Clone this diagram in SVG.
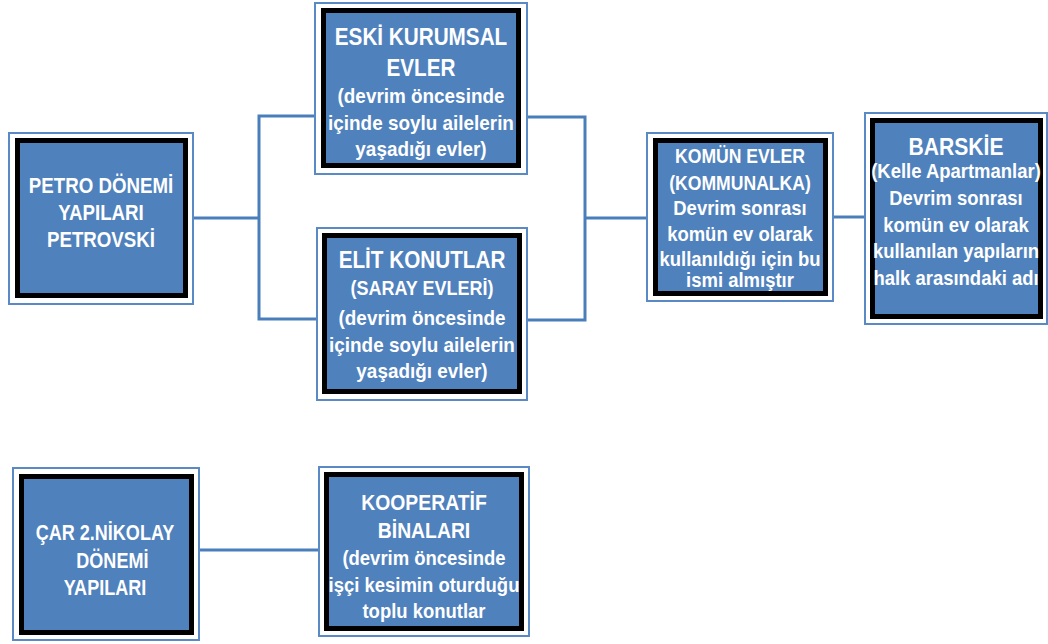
<svg xmlns="http://www.w3.org/2000/svg" width="1048" height="644" viewBox="0 0 1048 644">
<style>
.outer{fill:#ffffff;stroke:#5a8ac6;stroke-width:2}
.black{fill:#000000}
.fill{fill:#4f81bd}
.t{font-family:"Liberation Sans",Arial,sans-serif;font-weight:bold;fill:#ffffff;text-anchor:middle}
.conn{fill:none;stroke:#4a7ebb;stroke-width:3}
</style>
<rect width="1048" height="644" fill="#ffffff"/>
<g id="connectors" class="conn">
<path d="M193,218 H259"/>
<path d="M315,116 H259 V319 H317"/>
<path d="M527,117 H585 V320 H527"/>
<path d="M585,218 H647"/>
<path d="M833,217 H865"/>
<path d="M199,550 H319"/>
</g>
<g id="petro">
<rect class="outer" x="9" y="133" width="184" height="171"/>
<rect class="black" x="15" y="138" width="173" height="160"/>
<rect class="fill" x="20" y="143" width="163" height="150"/>
<g class="t" font-size="22" transform="translate(101,0) scale(0.85,1)">
<text x="0" y="193">PETRO DÖNEMİ</text>
<text x="0" y="220">YAPILARI</text>
<text x="0" y="247">PETROVSKİ</text>
</g>
</g>
<g id="eski">
<rect class="outer" x="315" y="3" width="212" height="171"/>
<rect class="black" x="321" y="8" width="200" height="160"/>
<rect class="fill" x="326" y="13" width="190" height="150"/>
<g class="t" font-size="21" transform="translate(421,0) scale(0.9,1)">
<text x="0" y="45" font-size="23">ESKİ KURUMSAL</text>
<text x="0" y="76" font-size="23">EVLER</text>
<text x="0" y="103">(devrim öncesinde</text>
<text x="0" y="130">içinde soylu ailelerin</text>
<text x="0" y="156">yaşadığı evler)</text>
</g>
</g>
<g id="elit">
<rect class="outer" x="317" y="228" width="210" height="172"/>
<rect class="black" x="322" y="233" width="200" height="161"/>
<rect class="fill" x="327" y="238" width="190" height="151"/>
<g class="t" font-size="21" transform="translate(422,0) scale(0.9,1)">
<text x="0" y="268" font-size="23">ELİT KONUTLAR</text>
<text x="0" y="295" font-size="20">(SARAY EVLERİ)</text>
<text x="0" y="325">(devrim öncesinde</text>
<text x="0" y="352">içinde soylu ailelerin</text>
<text x="0" y="378">yaşadığı evler)</text>
</g>
</g>
<g id="komun">
<rect class="outer" x="647" y="133" width="186" height="168"/>
<rect class="black" x="653" y="138" width="175" height="158"/>
<rect class="fill" x="658" y="143" width="165" height="148"/>
<g class="t" font-size="21" transform="translate(740,0) scale(0.88,1)">
<text x="0" y="163" font-size="20">KOMÜN EVLER</text>
<text x="0" y="190" font-size="20">(KOMMUNALKA)</text>
<text x="0" y="215">Devrim sonrası</text>
<text x="0" y="241">komün ev olarak</text>
<text x="0" y="266">kullanıldığı için bu</text>
<text x="0" y="287">ismi almıştır</text>
</g>
</g>
<g id="barskie">
<rect class="outer" x="865" y="113" width="182" height="211"/>
<rect class="black" x="870" y="118" width="173" height="201"/>
<rect class="fill" x="875" y="123" width="163" height="191"/>
<g class="t" font-size="21" transform="translate(956,0) scale(0.88,1)">
<text x="0" y="155" font-size="24">BARSKİE</text>
<text x="0" y="178">(Kelle Apartmanlar)</text>
<text x="0" y="205">Devrim sonrası</text>
<text x="0" y="232">komün ev olarak</text>
<text x="0" y="258">kullanılan yapıların</text>
<text x="0" y="285">halk arasındaki adı</text>
</g>
</g>
<g id="car">
<rect class="outer" x="13" y="468" width="186" height="172"/>
<rect class="black" x="19" y="474" width="175" height="161"/>
<rect class="fill" x="24" y="479" width="165" height="151"/>
<g class="t" font-size="22" transform="translate(105,0) scale(0.82,1)">
<text x="0" y="540">ÇAR 2.NİKOLAY</text>
<text x="9" y="568">DÖNEMİ</text>
<text x="0" y="595">YAPILARI</text>
</g>
</g>
<g id="kooperatif">
<rect class="outer" x="319" y="467" width="210" height="169"/>
<rect class="black" x="324" y="472" width="200" height="159"/>
<rect class="fill" x="329" y="477" width="190" height="149"/>
<g class="t" font-size="21" transform="translate(424,0) scale(0.88,1)">
<text x="0" y="510" font-size="22">KOOPERATİF</text>
<text x="0" y="538" font-size="22">BİNALARI</text>
<text x="0" y="565">(devrim öncesinde</text>
<text x="0" y="592">işçi kesimin oturduğu</text>
<text x="0" y="618">toplu konutlar</text>
</g>
</g>
</svg>
